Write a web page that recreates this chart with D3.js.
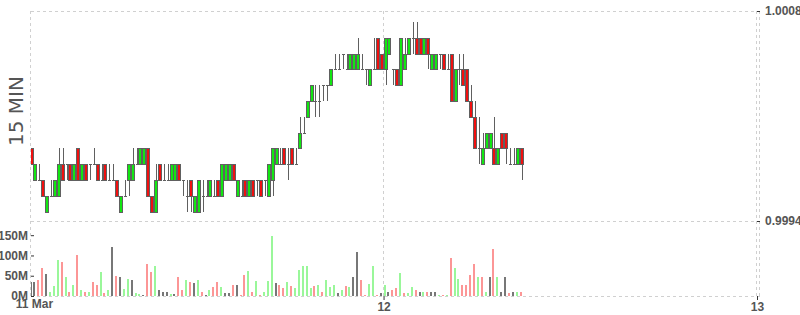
<!DOCTYPE html>
<html>
<head>
<meta charset="utf-8">
<script src="https://cdn.jsdelivr.net/npm/d3@7"></script>
<style>
  body { margin: 0; background: #fff; }
  svg { display: block; font-family: "Liberation Sans", Arial, sans-serif; }
</style>
</head>
<body>
<script>
// 15 min candles, 11 Mar 01:15 -> 12 Mar 08:45
const firstOpen = new Date(2023, 2, 11, 1, 15);

const openPrice = [
  0.9999, 0.9997, 0.9997, 0.9997, 0.9995, 0.9996, 0.9996, 0.9996, 0.9998, 0.9998,
  0.9998, 0.9997, 0.9999, 0.9997, 0.9998, 0.9998, 0.9998, 0.9998, 0.9997, 0.9998,
  0.9997, 0.9997, 0.9997, 0.9995, 0.9996, 0.9997, 0.9997, 0.9998, 0.9998, 0.9998,
  0.9999, 0.9996, 0.9995, 0.9998, 0.9997, 0.9997, 0.9997, 0.9997, 0.9998, 0.9997,
  0.9996, 0.9997, 0.9995, 0.9995, 0.9996, 0.9996, 0.9996, 0.9996, 0.9997, 0.9996,
  0.9997, 0.9997, 0.9998, 0.9996, 0.9996, 0.9997, 0.9996, 0.9997, 0.9997, 0.9997,
  0.9997, 0.9996, 0.9997, 0.9998, 0.9998, 0.9999, 0.9998, 0.9999, 0.9998, 0.9999,
  1.0000, 1.0001, 1.0002, 1.0002, 1.0002, 1.0003, 1.0003, 1.0003, 1.0004, 1.0004,
  1.0005, 1.0004, 1.0004, 1.0004, 1.0004, 1.0004, 1.0004, 1.0003, 1.0004, 1.0006,
  1.0005, 1.0004, 1.0005, 1.0004, 1.0004, 1.0003, 1.0004, 1.0005, 1.0006, 1.0006,
  1.0006, 1.0005, 1.0006, 1.0004, 1.0004, 1.0005, 1.0005, 1.0004, 1.0005, 1.0002,
  1.0004, 1.0004, 1.0004, 1.0002, 1.0001, 0.9999, 0.9998, 0.9999, 0.9999, 0.9999,
  0.9998, 1.0000, 1.0000, 0.9998, 0.9998, 0.9998, 0.9999
];
const highPrice = [
  0.9999, 0.9998, 0.9998, 0.9997, 0.9996, 0.9997, 0.9997, 0.9999, 0.9999, 0.9998,
  0.9998, 0.9998, 0.9999, 0.9998, 0.9998, 0.9998, 0.9999, 0.9998, 0.9998, 0.9998,
  0.9998, 0.9998, 0.9997, 0.9996, 0.9997, 0.9998, 0.9999, 0.9999, 0.9999, 0.9999,
  0.9999, 0.9996, 0.9998, 0.9998, 0.9998, 0.9998, 0.9998, 0.9998, 0.9998, 0.9997,
  0.9997, 0.9997, 0.9996, 0.9997, 0.9997, 0.9997, 0.9997, 0.9997, 0.9997, 0.9998,
  0.9998, 0.9998, 0.9998, 0.9997, 0.9997, 0.9997, 0.9997, 0.9997, 0.9997, 0.9997,
  0.9997, 0.9998, 0.9999, 0.9999, 0.9999, 0.9999, 0.9999, 0.9999, 0.9999, 1.0001,
  1.0001, 1.0002, 1.0003, 1.0003, 1.0003, 1.0003, 1.0003, 1.0004, 1.0005, 1.0005,
  1.0005, 1.0005, 1.0005, 1.0005, 1.0006, 1.0005, 1.0004, 1.0004, 1.0006, 1.0006,
  1.0005, 1.0006, 1.0006, 1.0004, 1.0004, 1.0006, 1.0006, 1.0006, 1.0007, 1.0007,
  1.0006, 1.0006, 1.0006, 1.0005, 1.0005, 1.0005, 1.0005, 1.0005, 1.0005, 1.0004,
  1.0005, 1.0005, 1.0004, 1.0003, 1.0002, 1.0001, 1.0000, 1.0000, 1.0000, 1.0001,
  0.9999, 1.0000, 1.0000, 0.9999, 0.9999, 0.9999, 0.9999
];
const lowPrice = [
  0.9998, 0.9997, 0.9997, 0.9996, 0.9995, 0.9996, 0.9996, 0.9996, 0.9997, 0.9997,
  0.9997, 0.9997, 0.9997, 0.9997, 0.9997, 0.9997, 0.9998, 0.9997, 0.9997, 0.9997,
  0.9997, 0.9997, 0.9996, 0.9995, 0.9996, 0.9996, 0.9997, 0.9998, 0.9998, 0.9998,
  0.9996, 0.9995, 0.9995, 0.9997, 0.9997, 0.9997, 0.9997, 0.9997, 0.9997, 0.9996,
  0.9995, 0.9995, 0.9995, 0.9995, 0.9995, 0.9996, 0.9996, 0.9996, 0.9996, 0.9996,
  0.9997, 0.9997, 0.9997, 0.9996, 0.9996, 0.9996, 0.9996, 0.9996, 0.9996, 0.9996,
  0.9996, 0.9996, 0.9996, 0.9998, 0.9998, 0.9998, 0.9997, 0.9998, 0.9998, 0.9999,
  1.0000, 1.0001, 1.0002, 1.0001, 1.0001, 1.0002, 1.0002, 1.0003, 1.0004, 1.0004,
  1.0004, 1.0004, 1.0004, 1.0004, 1.0004, 1.0004, 1.0003, 1.0003, 1.0004, 1.0004,
  1.0004, 1.0003, 1.0005, 1.0003, 1.0003, 1.0003, 1.0004, 1.0005, 1.0005, 1.0005,
  1.0005, 1.0005, 1.0004, 1.0004, 1.0004, 1.0004, 1.0004, 1.0004, 1.0002, 1.0002,
  1.0003, 1.0003, 1.0002, 1.0001, 0.9999, 0.9998, 0.9998, 0.9999, 0.9999, 0.9998,
  0.9998, 0.9999, 0.9998, 0.9998, 0.9998, 0.9998, 0.9997
];
const closePrice = [
  0.9998, 0.9998, 0.9997, 0.9996, 0.9996, 0.9996, 0.9997, 0.9998, 0.9997, 0.9998,
  0.9997, 0.9998, 0.9997, 0.9998, 0.9997, 0.9998, 0.9998, 0.9997, 0.9997, 0.9997,
  0.9997, 0.9997, 0.9996, 0.9996, 0.9996, 0.9998, 0.9998, 0.9998, 0.9999, 0.9999,
  0.9996, 0.9995, 0.9997, 0.9997, 0.9997, 0.9997, 0.9998, 0.9998, 0.9997, 0.9997,
  0.9996, 0.9996, 0.9996, 0.9997, 0.9996, 0.9996, 0.9997, 0.9996, 0.9996, 0.9998,
  0.9998, 0.9998, 0.9997, 0.9997, 0.9996, 0.9996, 0.9997, 0.9996, 0.9997, 0.9996,
  0.9997, 0.9998, 0.9999, 0.9999, 0.9998, 0.9998, 0.9998, 0.9998, 0.9998, 1.0000,
  1.0000, 1.0002, 1.0003, 1.0002, 1.0002, 1.0003, 1.0003, 1.0004, 1.0004, 1.0004,
  1.0005, 1.0004, 1.0005, 1.0005, 1.0005, 1.0004, 1.0004, 1.0004, 1.0004, 1.0004,
  1.0004, 1.0006, 1.0006, 1.0004, 1.0003, 1.0006, 1.0005, 1.0006, 1.0006, 1.0005,
  1.0005, 1.0006, 1.0005, 1.0005, 1.0005, 1.0005, 1.0004, 1.0004, 1.0002, 1.0004,
  1.0004, 1.0003, 1.0002, 1.0001, 0.9999, 0.9999, 0.9999, 1.0000, 1.0000, 0.9998,
  0.9999, 0.9999, 0.9999, 0.9998, 0.9998, 0.9999, 0.9998
];
// volume in millions
const volume = [
  35, 34, 40, 70, 55, 11, 25, 88, 83, 46,
  9, 28, 100, 16, 9, 11, 34, 26, 58, 7,
  16, 120, 50, 48, 18, 43, 40, 7, 4, 2,
  80, 58, 75, 14, 9, 9, 6, 4, 46, 14,
  40, 34, 31, 40, 11, 3, 16, 21, 34, 21,
  7, 7, 26, 26, 3, 53, 61, 11, 36, 3,
  11, 36, 147, 31, 26, 20, 34, 24, 20, 63,
  73, 73, 19, 24, 28, 9, 39, 21, 26, 7,
  16, 24, 21, 48, 109, 39, 3, 29, 75, 2,
  7, 26, 9, 16, 19, 56, 7, 7, 21, 14,
  9, 9, 11, 11, 11, 3, 3, 3, 93, 70,
  43, 26, 26, 53, 80, 46, 48, 9, 48, 115,
  46, 9, 48, 7, 11, 11, 11
];
// volume bar side: 1 up, -1 down, 0 flat
const volSide = [
  0, 0, -1, -1, 0, 1, 1, 1, -1, 1,
  -1, 1, -1, 1, -1, 1, -1, -1, 1, -1,
  1, 0, -1, 0, 1, 1, 0, 1, 1, 0,
  -1, -1, 1, 0, 0, 0, 1, 0, -1, -1,
  1, -1, 0, 1, -1, 0, 1, -1, -1, 1,
  0, 0, -1, 0, -1, -1, 1, -1, 1, -1,
  1, 1, 1, 0, -1, -1, 1, -1, 1, 1,
  1, 1, 1, -1, 1, -1, 1, 1, 1, 0,
  1, -1, 1, 0, 0, -1, -1, 1, 1, -1,
  0, 1, 0, -1, -1, 1, -1, 1, 1, -1,
  0, 1, -1, 0, 0, 1, -1, 1, -1, 1,
  1, -1, -1, -1, -1, 1, -1, 1, 0, -1,
  1, 0, 0, -1, 0, 1, -1
];

const priceDomain = [0.99944, 1.00077];
const volTicks = [0, 50, 100, 150];
const timeTicks = [new Date(2023, 2, 11, 1, 20, 30), new Date(2023, 2, 12), new Date(2023, 2, 13)];
const timeLabels = ["11 Mar", "12", "13"];

const data = openPrice.map((o, i) => ({
  t: d3.timeMinute.offset(firstOpen, 15 * i),
  o, h: highPrice[i], l: lowPrice[i], c: closePrice[i],
  v: volume[i], side: volSide[i]
}));

const W = 800, H = 315;
const plotLeft = 31, plotRight = 757, plotTop = 11, priceBottom = 221, plotBottom = 296;

const svg = d3.select("body").append("svg")
  .attr("width", W).attr("height", H);

const x = d3.scaleTime()
  .domain([timeTicks[0], timeTicks[2]])
  .range([plotLeft, plotRight]);
const y = d3.scaleLinear().domain(priceDomain).range([priceBottom, plotTop]);
const yv = d3.scaleLinear().domain([0, 185]).range([plotBottom, priceBottom]);

const cx = d => Math.round(x(d3.timeSecond.offset(d.t, 450)));

// grid
const grid = svg.append("g")
  .attr("stroke", "#d0d0d0").attr("stroke-dasharray", "3,3")
  .attr("shape-rendering", "crispEdges");
[plotTop, priceBottom, plotBottom].forEach(v => {
  grid.append("line").attr("x1", plotLeft).attr("x2", plotRight + 3)
    .attr("y1", v + 0.5).attr("y2", v + 0.5);
});
[plotLeft, x(timeTicks[1]), plotRight, plotRight + 3].forEach(v => {
  grid.append("line").attr("y1", plotTop).attr("y2", plotBottom)
    .attr("x1", Math.round(v) - 0.5).attr("x2", Math.round(v) - 0.5);
});

svg.append("clipPath").attr("id", "plot")
  .append("rect").attr("x", plotLeft).attr("y", 0)
  .attr("width", plotRight - plotLeft).attr("height", plotBottom + 1);

// volume bars
const volColor = { "1": "#9af79a", "-1": "#fc9696", "0": "#777" };
svg.append("g").attr("clip-path", "url(#plot)")
  .attr("shape-rendering", "crispEdges")
  .selectAll("rect").data(data).join("rect")
  .attr("x", d => cx(d) - 2)
  .attr("width", 2)
  .attr("y", d => yv(d.v))
  .attr("height", d => yv(0) - yv(d.v))
  .attr("fill", d => volColor[d.side]);

// candles
const stroke = "#606060";
const candles = svg.append("g").attr("clip-path", "url(#plot)")
  .attr("shape-rendering", "crispEdges")
  .selectAll("g").data(data).join("g");

candles.append("line")
  .attr("x1", d => cx(d) + 0.5).attr("x2", d => cx(d) + 0.5)
  .attr("y1", d => Math.round(y(d.h))).attr("y2", d => Math.round(y(d.l)))
  .attr("stroke", stroke);

candles.filter(d => d.o !== d.c).append("rect")
  .attr("x", d => cx(d) - 1.5)
  .attr("width", 3)
  .attr("y", d => Math.round(y(Math.max(d.o, d.c))) + 0.5)
  .attr("height", d => Math.round(y(Math.min(d.o, d.c))) - Math.round(y(Math.max(d.o, d.c))))
  .attr("fill", d => d.c > d.o ? "#12e612" : "#f01010")
  .attr("stroke", stroke);

candles.filter(d => d.o === d.c).append("line")
  .attr("x1", d => cx(d) - 1.5).attr("x2", d => cx(d) + 1.5)
  .attr("y1", d => Math.round(y(d.o)) + 0.5).attr("y2", d => Math.round(y(d.o)) + 0.5)
  .attr("stroke", stroke);

// axes
function styleAxis(g) {
  g.select(".domain").remove();
  g.selectAll(".tick line").attr("stroke", "#333");
  g.selectAll("text").attr("fill", "#555")
    .attr("font-size", 12).attr("font-weight", "bold")
    .attr("font-family", '"Liberation Sans", Arial, sans-serif');
}

svg.append("g")
  .attr("transform", `translate(${plotRight},0)`)
  .call(d3.axisRight(y).tickValues(priceDomain)
    .tickFormat(d3.format(".4f")).tickSize(3).tickPadding(5))
  .call(styleAxis);

svg.append("g")
  .attr("transform", `translate(${plotLeft},0)`)
  .call(d3.axisLeft(yv).tickValues(volTicks)
    .tickFormat(d => d + "M").tickSize(-3).tickPadding(3))
  .call(styleAxis);

const xAxis = svg.append("g")
  .attr("transform", `translate(0,${plotBottom})`)
  .call(d3.axisBottom(x).tickValues(timeTicks)
    .tickFormat((d, i) => timeLabels[i]).tickSize(4).tickPadding(2))
  .call(styleAxis);
xAxis.select(".tick:first-of-type line").remove();
xAxis.select(".tick:first-of-type text").attr("dx", 3).attr("y", 3);

// pane title
svg.append("text")
  .attr("transform", "translate(23,111) rotate(-90)")
  .attr("text-anchor", "middle")
  .attr("font-family", '"DejaVu Sans", sans-serif')
  .attr("font-size", 20)
  .attr("fill", "#555")
  .text("15 MIN");
</script>
</body>
</html>
